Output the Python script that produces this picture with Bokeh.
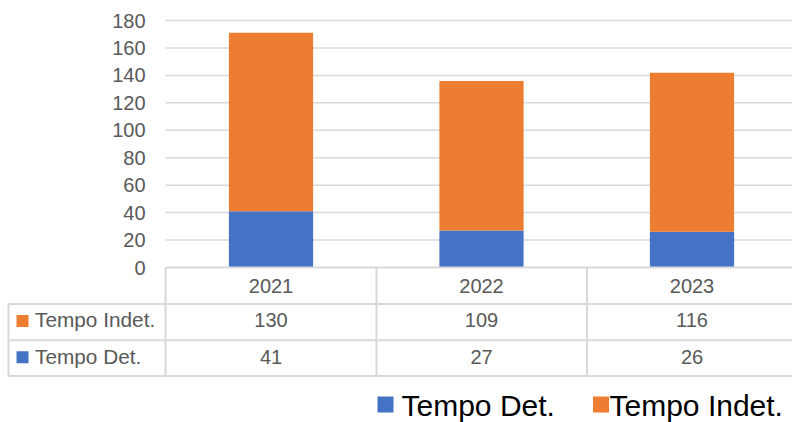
from bokeh.plotting import figure
from bokeh.models import Range1d, ColumnDataSource
from bokeh.core.properties import value
from bokeh.embed import file_html
from bokeh.resources import INLINE

# ---------------- data ----------------
years = ["2021", "2022", "2023"]
series_names = ["Tempo Det.", "Tempo Indet."]
tempo_det = [41, 27, 26]
tempo_indet = [130, 109, 116]
y_ticks = [0, 20, 40, 60, 80, 100, 120, 140, 160, 180]
colors = ["#4472C4", "#ED7D31"]

# ---------------- layout (page pixels) ----------------
W, H = 792, 422
LEFT, RIGHT, TOP, BOTTOM = 0, 792, 0, 422
X0_PX, CAT_PX = 270.5, 210.5          # centre of first category, category pitch
ZERO_PX, MAX_PX, YMAX = 267, 20, 180  # y pixel of 0 and of 180
PLOT_LEFT_PX = 165
TABLE_LEFT_PX = 8
ROW_LINES_PX = [303.5, 339.7, 375.5]
COL_LINES_PX = [165, 376, 586.5]
FONT = value("Liberation Sans")
GREY = "#595959"
LINE = "#D9D9D9"
TXT_DY = -7.5   # baseline correction for svg text


def ux(px):
    return (px - X0_PX) / CAT_PX


def uy(py):
    return (ZERO_PX - py) * YMAX / (ZERO_PX - MAX_PX)


def ty(py):
    return uy(py + TXT_DY)


p = figure(width=W, height=H, output_backend="svg", toolbar_location=None,
           x_range=Range1d(ux(LEFT), ux(RIGHT)), y_range=Range1d(uy(BOTTOM), uy(TOP)),
           x_axis_location=None, y_axis_location=None, min_border=0)
p.outline_line_color = None
p.background_fill_color = "white"
p.border_fill_color = "white"
p.grid.visible = False

idx = list(range(len(years)))

# gridlines
grid_vals = y_ticks[1:]
p.segment(x0=[ux(PLOT_LEFT_PX)] * len(grid_vals), x1=[ux(800)] * len(grid_vals),
          y0=grid_vals, y1=grid_vals, line_color=LINE, line_width=1.5)

# stacked bars
src = ColumnDataSource(dict(x=idx, det=tempo_det, indet=tempo_indet))
p.vbar_stack(["det", "indet"], x="x", width=0.40, color=colors, line_color=None, source=src)

# y tick labels
px_per_unit = (ZERO_PX - MAX_PX) / YMAX
p.text(x=[ux(145)] * len(y_ticks), y=[ty(ZERO_PX - t * px_per_unit + 7.5) for t in y_ticks],
       text=[str(t) for t in y_ticks], text_align="right", text_baseline="alphabetic",
       text_font=FONT, text_font_size="20px", text_color=GREY)

# table lines
hx0 = [ux(PLOT_LEFT_PX)] + [ux(TABLE_LEFT_PX)] * len(ROW_LINES_PX)
hy = [uy(ZERO_PX)] + [uy(r) for r in ROW_LINES_PX]
p.segment(x0=hx0, x1=[ux(800)] * len(hx0), y0=hy, y1=hy, line_color=LINE, line_width=2)
vx = [ux(TABLE_LEFT_PX)] + [ux(c) for c in COL_LINES_PX]
vy0 = [uy(ROW_LINES_PX[0])] + [uy(ZERO_PX)] * len(COL_LINES_PX)
p.segment(x0=vx, x1=vx, y0=vy0, y1=[uy(ROW_LINES_PX[-1])] * len(vx), line_color=LINE, line_width=2)

# header row (years)
p.text(x=idx, y=[ty(292.7)] * len(idx), text=years, text_align="center",
       text_baseline="alphabetic", text_font=FONT, text_font_size="20px", text_color=GREY)
# value rows
p.text(x=idx, y=[ty(327)] * len(idx), text=[str(v) for v in tempo_indet], text_align="center",
       text_baseline="alphabetic", text_font=FONT, text_font_size="20px", text_color=GREY)
p.text(x=idx, y=[ty(363.5)] * len(idx), text=[str(v) for v in tempo_det], text_align="center",
       text_baseline="alphabetic", text_font=FONT, text_font_size="20px", text_color=GREY)

# row labels with colour keys
p.rect(x=[ux(22)] * 2, y=[uy(320.5), uy(356.7)], width=12, height=12,
       width_units="screen", height_units="screen", fill_color=[colors[1], colors[0]], line_color=None)
p.text(x=[ux(34.5)] * 2, y=[ty(326.7), ty(363.3)], text=[series_names[1], series_names[0]],
       text_align="left", text_baseline="alphabetic", text_font=FONT, text_font_size="20.8px",
       text_color=GREY)

# bottom legend
p.rect(x=[ux(385), ux(600.5)], y=[uy(404)] * 2, width=16, height=16,
       width_units="screen", height_units="screen", fill_color=colors, line_color=None)
p.text(x=[ux(401), ux(609)], y=[ty(412)] * 2, text=series_names, text_align="left",
       text_baseline="alphabetic", text_font=FONT, text_font_size="30px", text_color="#000000")

open("out.html", "w").write(file_html(p, INLINE))
